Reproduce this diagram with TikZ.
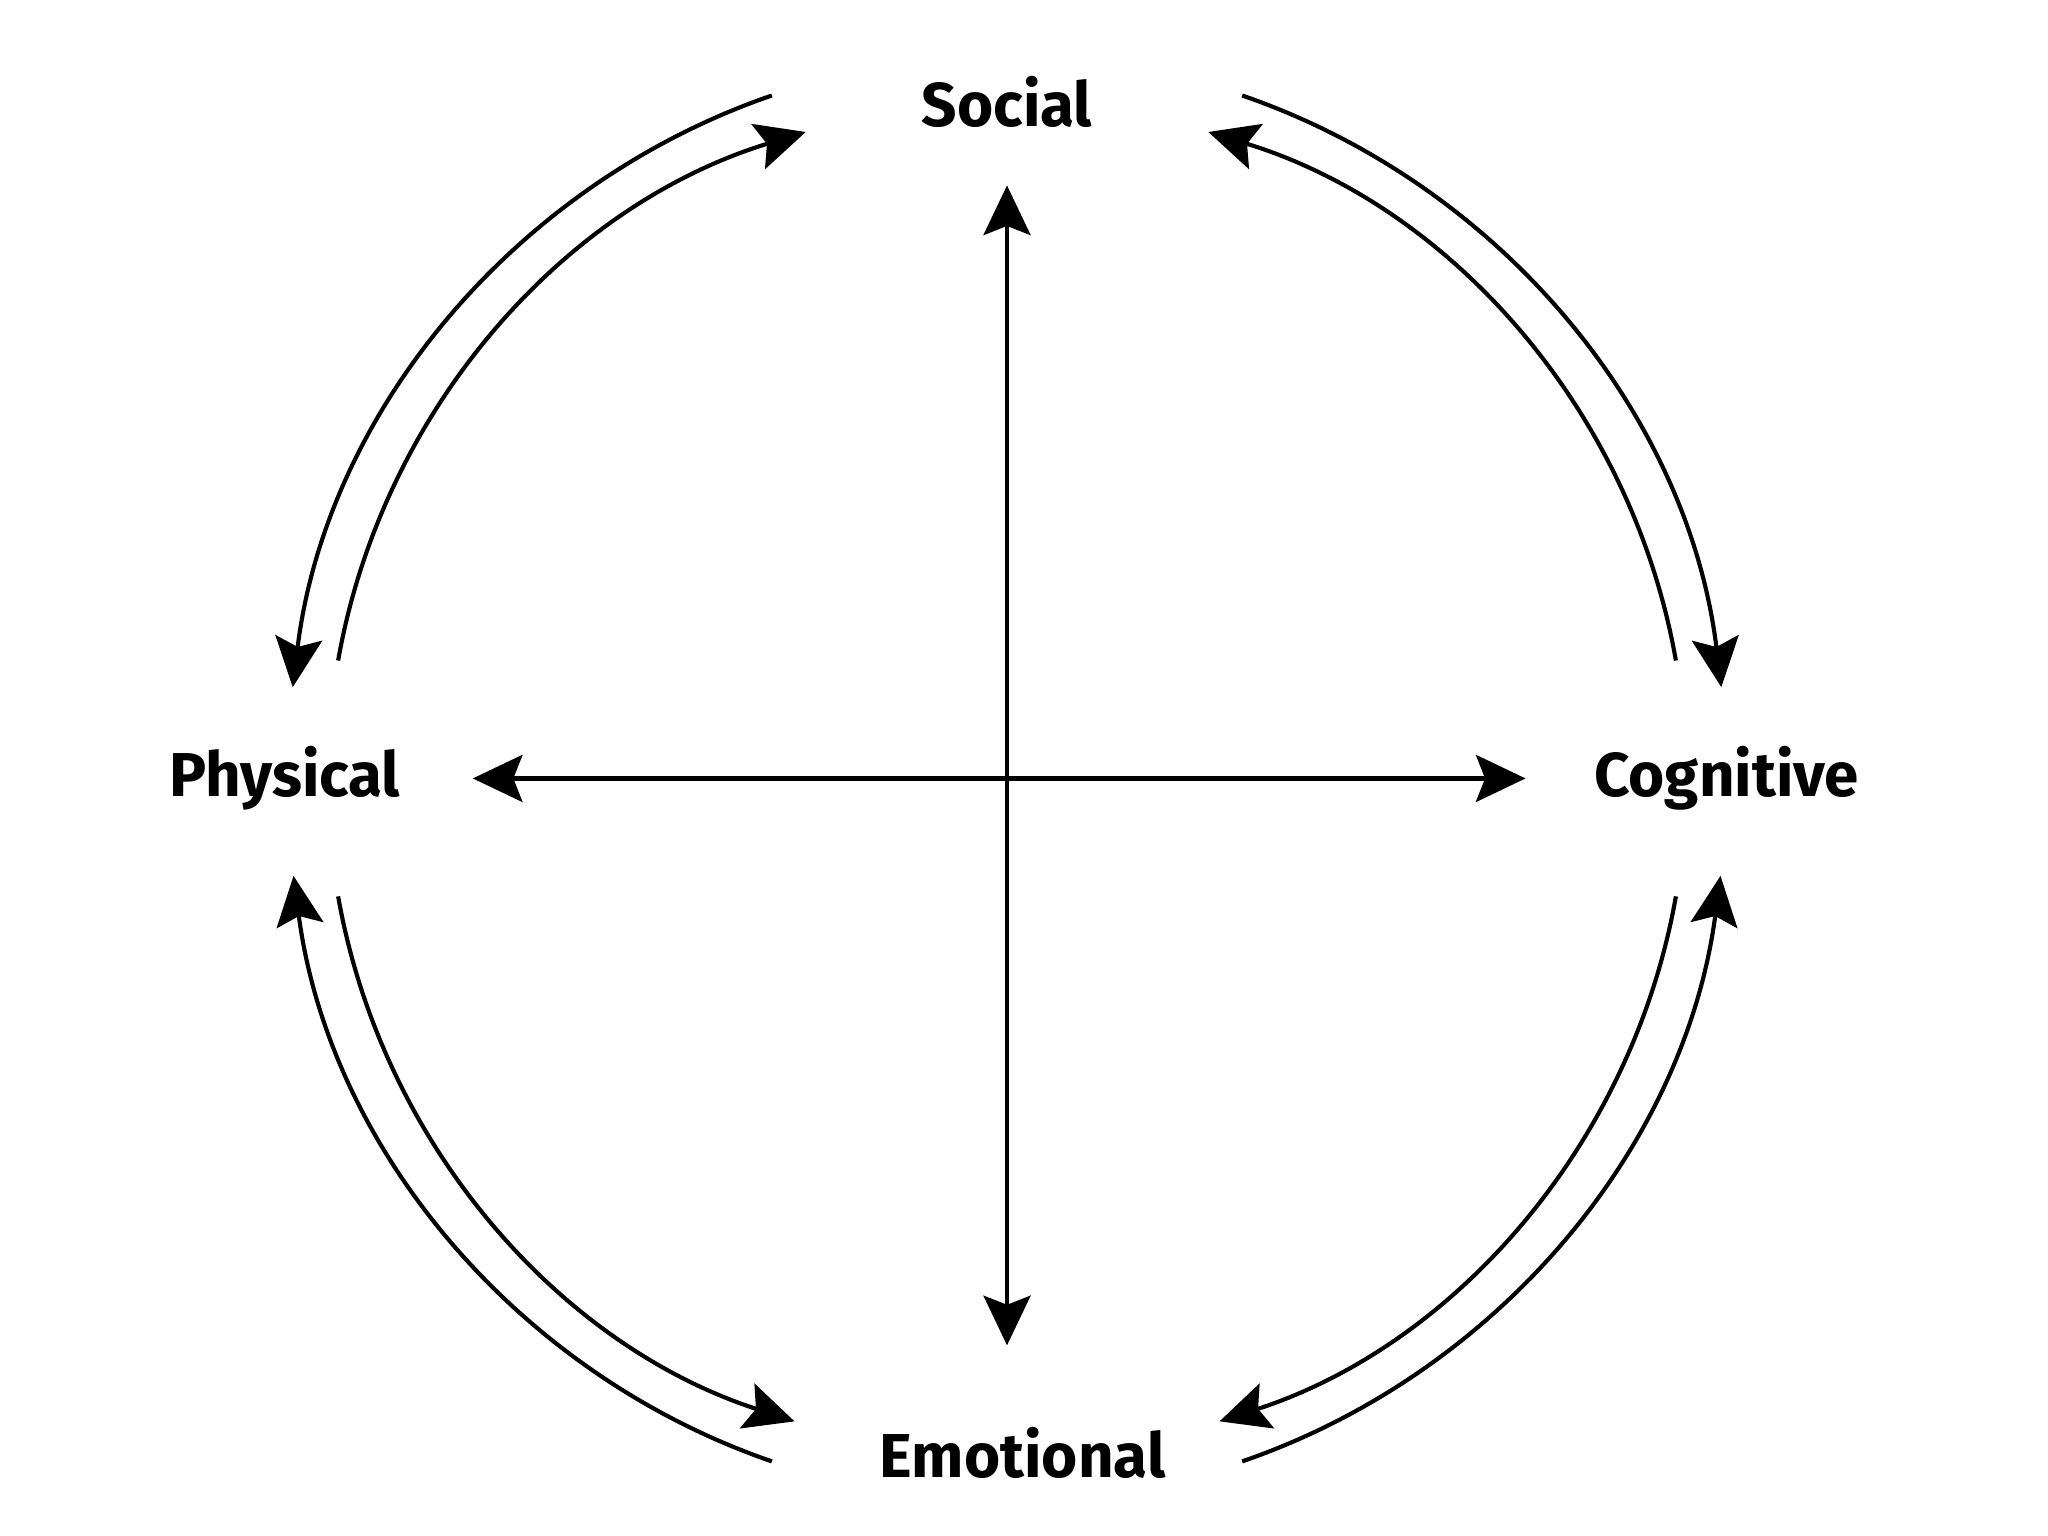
\documentclass[tikz,border=0pt]{standalone}
\usepackage{fontspec}
\setmainfont{Fira Sans}
\usetikzlibrary{arrows.meta}
\tikzset{
  area/.style={font=\bfseries\fontsize{13.5}{16}\selectfont},
  link/.style={line width=0.9pt, -{Stealth[length=0.38cm,width=0.36cm,inset=0.07cm]}},
  both/.style={line width=0.9pt, {Stealth[length=0.38cm,width=0.36cm,inset=0.07cm]}-{Stealth[length=0.38cm,width=0.36cm,inset=0.07cm]}}
}
\begin{document}
\begin{tikzpicture}
    \useasboundingbox (-7.71,-5.80) rectangle (7.97,5.96);
    \coordinate (c) at (0,0);
    \node[area] (social) at (0,5.18) {Social};
    \node[area] (emotional) at (0.12,-5.16) {Emotional};
    \node[area] (physical) at (-5.53,0) {Physical};
    \node[area] (cognitive) at (5.51,0) {Cognitive};

    \coordinate (top) at (0,4.54);
    \coordinate (bottom) at (0,-4.34);
    \coordinate (left) at (-4.09,0);
    \coordinate (right) at (3.97,0);
    \draw[both] (top) -- (bottom);
    \draw[both] (left) -- (right);

    % top left
    \draw[link] (c) ++(109:5.53) arc[start angle=109, end angle=173, radius=5.5];
    \draw[link] (c) ++(170:5.2) arc[start angle=170, end angle=107, radius=5.17];
    % top right
    \draw[link] (c) ++(71:5.53) arc[start angle=71, end angle=7, radius=5.5];
    \draw[link] (c) ++(10:5.2) arc[start angle=10, end angle=73, radius=5.17];
    % bottom left
    \draw[link] (c) ++(251:5.53) arc[start angle=251, end angle=187.5, radius=5.5];
    \draw[link] (c) ++(190:5.2) arc[start angle=190, end angle=252, radius=5.17];
    % bottom right
    \draw[link] (c) ++(289:5.53) arc[start angle=289, end angle=352.5, radius=5.5];
    \draw[link] (c) ++(350:5.2) arc[start angle=350, end angle=288, radius=5.17];
\end{tikzpicture}
\end{document}
